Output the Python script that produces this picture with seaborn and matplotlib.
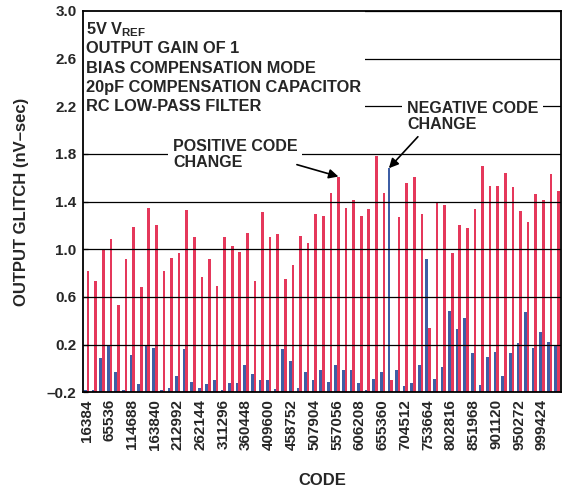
import matplotlib
matplotlib.use("Agg")
import matplotlib.pyplot as plt
from matplotlib.patches import Rectangle
import seaborn as sns
import pandas as pd

# DAC input codes (every 16384 steps)
codes = [16384, 32768, 49152, 65536, 81920, 98304, 114688, 131072, 147456,
         163840, 180224, 196608, 212992, 229376, 245760, 262144, 278528,
         294912, 311296, 327680, 344064, 360448, 376832, 393216, 409600,
         425984, 442368, 458752, 475136, 491520, 507904, 524288, 540672,
         557056, 573440, 589824, 606208, 622592, 638976, 655360, 671744,
         688128, 704512, 720896, 737280, 753664, 770048, 786432, 802816,
         819200, 835584, 851968, 868352, 884736, 901120, 917504, 933888,
         950272, 966656, 983040, 999424, 1015808, 1032192]

# Glitch impulse (nV-sec) for a negative code change into each code
negative_glitch = [-0.18, -0.18, 0.09, 0.20, -0.03, -0.18, 0.11, -0.13, 0.20,
                   0.17, -0.18, -0.16, -0.06, 0.16, -0.11, -0.16, -0.13, -0.10,
                   -0.18, -0.12, -0.12, 0.03, -0.05, -0.10, -0.10, -0.17, 0.16,
                   0.06, -0.16, -0.03, -0.10, -0.01, -0.11, 0.03, -0.01, -0.01,
                   -0.12, -0.18, -0.09, -0.03, 1.68, -0.01, -0.15, -0.12, 0.03,
                   0.92, -0.09, 0.01, 0.48, 0.33, 0.42, 0.13, -0.14, 0.10, 0.14,
                   -0.06, 0.13, 0.21, 0.47, 0.17, 0.31, 0.22, 0.19]

# Glitch impulse (nV-sec) for a positive code change into each code
positive_glitch = [0.82, 0.73, 0.99, 1.09, 0.53, 0.92, 1.19, 0.68, 1.35, 1.20,
                   0.82, 0.93, 0.97, 1.33, 1.10, 0.77, 0.92, 0.69, 1.10, 1.03,
                   0.98, 1.14, 0.73, 1.31, 1.10, 1.13, 0.75, 0.87, 1.11, 1.05,
                   1.30, 1.28, 1.47, 1.61, 1.35, 1.41, 1.28, 1.34, 1.78, 1.47,
                   -0.10, 1.27, 1.56, 1.61, 1.30, 0.34, 1.40, 1.37, 0.97, 1.20,
                   1.18, 1.34, 1.70, 1.53, 1.53, 1.64, 1.52, 1.32, 1.23, 1.46,
                   1.41, 1.63, 1.49]

y_ticks = [-0.2, 0.2, 0.6, 1.0, 1.4, 1.8, 2.2, 2.6, 3.0]
y_tick_labels = ["\u20130.2", "0.2", "0.6", "1.0", "1.4", "1.8", "2.2", "2.6", "3.0"]

conditions = ["5V V$_{\\mathbf{REF}}$", "OUTPUT GAIN OF 1",
              "BIAS COMPENSATION MODE", "20pF COMPENSATION CAPACITOR",
              "RC LOW-PASS FILTER"]

RED = "#E5385B"
BLUE = "#3E5EA5"
FLOOR = -0.2  # bars rise from the bottom of the axis

sns.set_theme(style="white")
plt.rcParams["font.family"] = ["Liberation Sans", "DejaVu Sans"]
plt.rcParams["font.weight"] = "bold"
plt.rcParams["mathtext.fontset"] = "custom"
plt.rcParams["mathtext.bf"] = "Liberation Sans:bold"
plt.rcParams["mathtext.rm"] = "Liberation Sans:bold"

labels = [str(c) for c in codes]
df = pd.DataFrame({
    "code": labels * 2,
    "change": ["NEGATIVE"] * len(codes) + ["POSITIVE"] * len(codes),
    "glitch": negative_glitch + positive_glitch,
})
df["height"] = df["glitch"] - FLOOR

fig = plt.figure(figsize=(5.7, 4.9), dpi=100)
ax = fig.add_axes([0.1456, 0.1994, 0.8384, 0.7784])

sns.barplot(data=df, x="code", y="height", hue="change", order=labels,
            hue_order=["NEGATIVE", "POSITIVE"],
            palette={"NEGATIVE": BLUE, "POSITIVE": RED},
            width=0.7, saturation=1, legend=False, bottom=FLOOR,
            linewidth=0, ax=ax)

ax.set_xlim(-0.5, len(codes) - 0.5)
ax.set_ylim(-0.2, 3.0)
ax.set_yticks(y_ticks)
ax.set_yticklabels(y_tick_labels, fontsize=11, fontweight="bold")
ax.set_xticks(range(0, len(codes), 3))
ax.set_xticklabels(labels[::3], rotation=90, fontsize=11, fontweight="bold")
ax.tick_params(axis="x", length=0, pad=5)
ax.tick_params(axis="y", direction="in", length=3.5, width=0.9, color="black",
               pad=4.5, left=True)

ax.set_axisbelow(False)
ax.yaxis.grid(True, color="black", linewidth=0.9)
ax.xaxis.grid(False)
for s in ax.spines.values():
    s.set_color("black")
    s.set_linewidth(1.3)
    s.set_zorder(6)

ax.set_xlabel("CODE", fontsize=12, fontweight="bold")
ax.set_ylabel("OUTPUT GLITCH (nV\u2013sec)", fontsize=12, fontweight="bold")
ax.xaxis.set_label_coords(0.5, -0.212)
ax.yaxis.set_label_coords(-0.112, 0.5)

# test-condition block in the upper left
ax.add_patch(Rectangle((-0.5, 2.125), 37.2, 0.875, facecolor="white",
                       edgecolor="none", zorder=3))
baseline = 2.805
for line in conditions:
    ax.text(-0.1, baseline, line, fontsize=11.8, fontweight="bold",
            ha="left", va="baseline", zorder=4)
    baseline -= 0.1615

arrow = dict(arrowstyle="-|>", color="black", lw=1.2, mutation_scale=14,
             shrinkA=0, shrinkB=0)
box = dict(boxstyle="square,pad=0.3", facecolor="white", edgecolor="none")

pos_idx = 33
ax.annotate("", xy=(pos_idx + 0.175, positive_glitch[pos_idx]),
            xytext=(27.7, 1.71), arrowprops=arrow, zorder=5)
ax.text(11.36, 1.925, "POSITIVE CODE\nCHANGE", fontsize=11.5, fontweight="bold",
        ha="left", va="top", linespacing=1.05, bbox=box, zorder=4)

neg_idx = 40
ax.annotate("", xy=(neg_idx - 0.175, negative_glitch[neg_idx]),
            xytext=(43.65, 1.944), arrowprops=arrow, zorder=5)
ax.text(42.2, 2.24, "NEGATIVE CODE\nCHANGE", fontsize=11.5, fontweight="bold",
        ha="left", va="top", linespacing=1.05, bbox=box, zorder=4)

fig.savefig("out.png", dpi=100)
